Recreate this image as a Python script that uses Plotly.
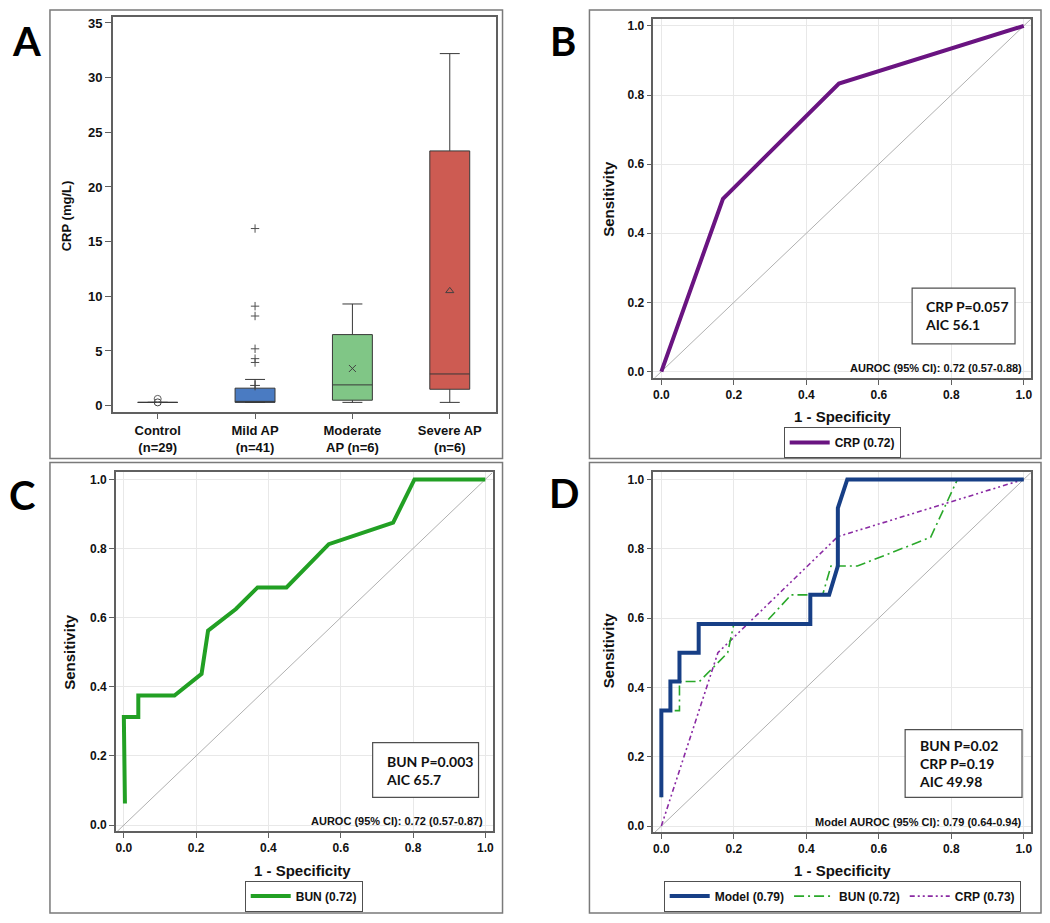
import plotly.graph_objects as go

# page has an 8px body margin, so the figure is drawn 8px in from the window edge
OFF = 8
W, H = 1050 - OFF, 923 - OFF

# ---- Panel A: CRP by severity group (box stats)
groups = ["Control<br>(n=29)", "Mild AP<br>(n=41)", "Moderate<br>AP (n=6)", "Severe AP<br>(n=6)"]
q1 = [0.3, 0.3, 0.5, 1.5]
median = [0.3, 0.35, 1.9, 2.9]
q3 = [0.3, 1.6, 6.5, 23.3]
lower = [0.3, 0.3, 0.3, 0.3]
upper = [0.3, 2.4, 9.3, 32.2]
means = [0.3, 1.85, 3.4, 10.5]
mean_symbols = ["circle-open", "cross-thin-open", "x-thin-open", "triangle-up-open"]
box_colors = ["rgba(255,255,255,0)", "#4a7bc2", "#80c686", "#cd5b52"]
control_outliers = [0.62]
mild_outliers = [3.95, 4.3, 5.2, 8.2, 9.1, 16.2]

# ---- Panel B: CRP ROC
crp_b_x = [0.0, 0.17, 0.49, 1.0]
crp_b_y = [0.0, 0.5, 0.833, 1.0]

# ---- Panel C: BUN ROC
bun_c_x = [0.003, 0.0, 0.04, 0.04, 0.14, 0.215, 0.233, 0.31, 0.37, 0.45, 0.567, 0.745, 0.804, 1.0]
bun_c_y = [0.0625, 0.3125, 0.3125, 0.375, 0.375, 0.4375, 0.5625, 0.625, 0.6875, 0.6875, 0.8125, 0.875, 1.0, 1.0]

# ---- Panel D: combined model vs single markers
model_x = [0.0, 0.0, 0.025, 0.025, 0.05, 0.05, 0.103, 0.103, 0.411, 0.411, 0.463, 0.487, 0.487, 0.513, 1.0]
model_y = [0.083, 0.333, 0.333, 0.417, 0.417, 0.5, 0.5, 0.583, 0.583, 0.667, 0.667, 0.75, 0.917, 1.0, 1.0]
bun_d_x = [0.0, 0.0, 0.05, 0.05, 0.105, 0.183, 0.2, 0.284, 0.358, 0.445, 0.468, 0.541, 0.743, 0.817, 1.0]
bun_d_y = [0.083, 0.333, 0.333, 0.417, 0.417, 0.5, 0.583, 0.583, 0.667, 0.667, 0.75, 0.75, 0.833, 1.0, 1.0]
crp_d_x = [0.0, 0.156, 0.487, 1.0]
crp_d_y = [0.0, 0.5, 0.835, 1.0]

diag = [-0.02, 1.02]
roc_ticks = [0.0, 0.2, 0.4, 0.6, 0.8, 1.0]

AX_FONT = "Liberation Sans"
BOX_FONT = "Lato"
FRAME = "#7a7a7a"
AXLINE = "#606060"


def px(x):
    return (x - OFF) / W


def py(y):
    return 1 - (y - OFF) / H


fig = go.Figure()

# panel A boxes
for i, g in enumerate(groups):
    fig.add_trace(go.Box(
        x=[g], q1=[q1[i]], median=[median[i]], q3=[q3[i]],
        lowerfence=[lower[i]], upperfence=[upper[i]],
        fillcolor=box_colors[i], line=dict(color="#383838", width=1),
        width=0.41, whiskerwidth=0.5, boxpoints=False, showlegend=False,
        xaxis="x", yaxis="y"))
    fig.add_trace(go.Scatter(
        x=[g], y=[means[i]], mode="markers", showlegend=False,
        marker=dict(symbol=mean_symbols[i], size=7, color="#404040",
                    line=dict(color="#404040", width=1)),
        xaxis="x", yaxis="y"))
fig.add_trace(go.Scatter(
    x=[groups[0]] * len(control_outliers), y=control_outliers, mode="markers",
    marker=dict(symbol="circle-open", size=7, color="#606060"), showlegend=False,
    xaxis="x", yaxis="y"))
fig.add_trace(go.Scatter(
    x=[groups[1]] * len(mild_outliers), y=mild_outliers, mode="markers",
    marker=dict(symbol="cross-thin-open", size=6, color="#505050", line=dict(color="#505050", width=1)),
    showlegend=False, xaxis="x", yaxis="y"))

# ROC diagonals
for xa, ya in [("x2", "y2"), ("x3", "y3"), ("x4", "y4")]:
    fig.add_trace(go.Scatter(x=diag, y=diag, mode="lines", showlegend=False, hoverinfo="skip",
                             line=dict(color="#b0b0b0", width=1), xaxis=xa, yaxis=ya))

fig.add_trace(go.Scatter(x=crp_b_x, y=crp_b_y, mode="lines", name="CRP (0.72)",
                         line=dict(color="#6a1481", width=4), xaxis="x2", yaxis="y2",
                         legend="legend"))
fig.add_trace(go.Scatter(x=bun_c_x, y=bun_c_y, mode="lines", name="BUN (0.72)",
                         line=dict(color="#22a024", width=4), xaxis="x3", yaxis="y3",
                         legend="legend2"))
fig.add_trace(go.Scatter(x=crp_d_x, y=crp_d_y, mode="lines", name="CRP (0.73)",
                         line=dict(color="#8a2aa3", width=1.6, dash="5px,3px,2px,3px,2px,3px"),
                         xaxis="x4", yaxis="y4", legend="legend3", legendrank=3))
fig.add_trace(go.Scatter(x=bun_d_x, y=bun_d_y, mode="lines", name="BUN (0.72)",
                         line=dict(color="#2aa82a", width=1.6, dash="10px,4px,2px,4px"),
                         xaxis="x4", yaxis="y4", legend="legend3", legendrank=2))
fig.add_trace(go.Scatter(x=model_x, y=model_y, mode="lines", name="Model (0.79)",
                         line=dict(color="#173f86", width=4), xaxis="x4", yaxis="y4",
                         legend="legend3", legendrank=1))

tickfont = dict(family=AX_FONT, size=12, color="#111", weight="bold")


def roc_axes(dom_x, dom_y, anchor_x, anchor_y):
    xa = dict(domain=dom_x, anchor=anchor_y, range=[-0.022, 1.02], tickvals=roc_ticks,
              tickformat=".1f", showgrid=True, gridcolor="#e8e8e8", zeroline=False,
              showline=True, linecolor=AXLINE, linewidth=1.5, mirror=True,
              ticks="outside", ticklen=5, tickcolor=AXLINE, tickfont=tickfont)
    ya = dict(domain=dom_y, anchor=anchor_x, range=[-0.018, 1.02], tickvals=roc_ticks,
              tickformat=".1f", showgrid=True, gridcolor="#e8e8e8", zeroline=False,
              showline=True, linecolor=AXLINE, linewidth=1.5, mirror=True,
              ticks="outside", ticklen=5, tickcolor=AXLINE, tickfont=tickfont)
    return xa, ya


xb, yb = roc_axes([px(654), px(1032)], [py(378), py(18)], "x2", "y2")
xc, yc = roc_axes([px(116), px(493)], [py(833), py(473)], "x3", "y3")
xd, yd = roc_axes([px(654), px(1032)], [py(834), py(473)], "x4", "y4")

legend_common = dict(orientation="h", xanchor="center", yanchor="middle",
                     bordercolor="#505050", borderwidth=1, bgcolor="white",
                     font=dict(family=AX_FONT, size=12, color="#111", weight="bold"),
                     itemwidth=40, traceorder="normal")

fig.update_layout(
    width=W, height=H, margin=dict(l=0, r=0, t=0, b=0),
    paper_bgcolor="white", plot_bgcolor="white",
    xaxis=dict(domain=[px(113), px(496)], anchor="y", range=[-0.46, 3.47],
               showline=True, linecolor=AXLINE, linewidth=1.5, mirror=True,
               ticks="outside", ticklen=6, tickcolor=AXLINE,
               tickfont=dict(family=AX_FONT, size=13, color="#111", weight="bold")),
    yaxis=dict(domain=[py(412), py(16)], anchor="x", range=[-0.55, 35.55],
               tickvals=[0, 5, 10, 15, 20, 25, 30, 35], showgrid=False, zeroline=False,
               showline=True, linecolor=AXLINE, linewidth=1.5, mirror=True,
               ticks="outside", ticklen=6, tickcolor=AXLINE,
               tickfont=dict(family=AX_FONT, size=13, color="#111", weight="bold")),
    xaxis2=xb, yaxis2=yb, xaxis3=xc, yaxis3=yc, xaxis4=xd, yaxis4=yd,
    legend=dict(x=px(843), y=py(443), **legend_common),
    legend2=dict(x=px(304), y=py(898), **legend_common),
    legend3=dict(x=px(843), y=py(898), **legend_common),
)

# panel frames
for x0, y0, x1, y1 in [(50, 9, 503, 459), (590, 9, 1042, 459), (50, 463, 503, 915), (590, 463, 1042, 915)]:
    fig.add_shape(type="rect", xref="paper", yref="paper", x0=px(x0), x1=px(x1), y0=py(y1), y1=py(y0),
                  line=dict(color=FRAME, width=1.5))

# stats boxes
for x0, y0, x1, y1 in [(913, 288, 1016, 344), (373, 744, 479, 799), (906, 731, 1023, 799)]:
    fig.add_shape(type="rect", xref="paper", yref="paper", x0=px(x0), x1=px(x1), y0=py(y1), y1=py(y0),
                  line=dict(color="#505050", width=1.2), fillcolor="white")

annots = []
for letter, x, y in [("A", 27, 40), ("B", 564, 40), ("C", 22, 496), ("D", 565, 494)]:
    annots.append(dict(text=letter, x=px(x), y=py(y), xref="paper", yref="paper", showarrow=False,
                       xanchor="center", yanchor="middle",
                       font=dict(family=BOX_FONT, size=40, color="black", weight="bold")))

title_font = dict(family=AX_FONT, size=15, color="#111", weight="bold")
for x, y in [(843, 417), (303, 872), (843, 872)]:
    annots.append(dict(text="1 - Specificity", x=px(x), y=py(y), xref="paper", yref="paper",
                       showarrow=False, xanchor="center", yanchor="middle", font=title_font))
for x, y in [(609, 198), (70, 653), (609, 651)]:
    annots.append(dict(text="Sensitivity", x=px(x), y=py(y), xref="paper", yref="paper",
                       showarrow=False, textangle=-90, xanchor="center", yanchor="middle", font=title_font))
annots.append(dict(text="CRP (mg/L)", x=px(66), y=py(215), xref="paper", yref="paper",
                   showarrow=False, textangle=-90, xanchor="center", yanchor="middle",
                   font=dict(family=AX_FONT, size=13, color="#111", weight="bold")))

small_font = dict(family=AX_FONT, size=11, color="#111", weight="bold")
for txt, x, y in [("AUROC (95% CI): 0.72 (0.57-0.88)", 1025, 368),
                  ("AUROC (95% CI): 0.72 (0.57-0.87)", 485, 823),
                  ("Model AUROC (95% CI): 0.79 (0.64-0.94)", 1025, 824)]:
    annots.append(dict(text=txt, x=px(x), y=py(y), xref="paper", yref="paper", showarrow=False,
                       xanchor="right", yanchor="middle", font=small_font))

box_font = dict(family=BOX_FONT, size=14, color="#111", weight="bold")
for txt, x, y in [("CRP P=0.057<br>AIC 56.1", 924, 316),
                  ("BUN P=0.003<br>AIC 65.7", 384, 772),
                  ("BUN P=0.02<br>CRP P=0.19<br>AIC 49.98", 918, 765)]:
    annots.append(dict(text=txt, x=px(x), y=py(y), xref="paper", yref="paper", showarrow=False,
                       xanchor="left", yanchor="middle", align="left", font=box_font))

fig.update_layout(annotations=annots)

fig.write_html("out.html")
